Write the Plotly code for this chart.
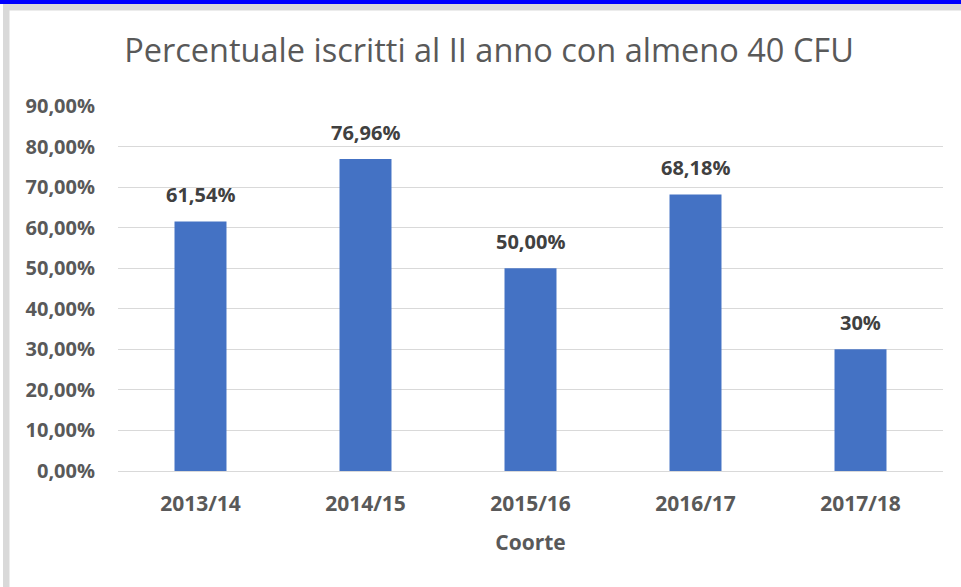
import plotly.graph_objects as go

coorti = ["2013/14", "2014/15", "2015/16", "2016/17", "2017/18"]
percentuali = [0.6154, 0.7696, 0.50, 0.6818, 0.30]
etichette = ["61,54%", "76,96%", "50,00%", "68,18%", "30%"]

W, H = 961, 587
ML, MR, MT, MB = 118, 18, 106, 116
PW, PH = W - ML - MR, H - MT - MB


def px_x(px):
    return (px - ML) / PW


def px_y(py):
    return (H - MB - py) / PH


fig = go.Figure()

fig.add_trace(go.Bar(
    x=coorti, y=percentuali,
    marker=dict(color="#4472C4", line=dict(width=0)),
    width=0.315,
    hoverinfo="skip",
))

# etichette dati sopra le barre
for c, v, t in zip(coorti, percentuali, etichette):
    fig.add_annotation(
        x=c, y=v, text=f"<b>{t}</b>", showarrow=False,
        yanchor="bottom", yshift=11,
        font=dict(family="Open Sans", size=20, color="#404040"),
    )

# cornice: barra blu in alto, bordo grigio
fig.add_shape(type="rect", xref="paper", yref="paper",
              x0=px_x(-20), x1=px_x(W + 20), y0=px_y(4), y1=px_y(-20),
              fillcolor="#0000FF", line_width=0, layer="below")
fig.add_shape(type="rect", xref="paper", yref="paper",
              x0=px_x(3), x1=px_x(W + 20), y0=px_y(10.5), y1=px_y(4),
              fillcolor="#D9D9D9", line_width=0, layer="below")
fig.add_shape(type="rect", xref="paper", yref="paper",
              x0=px_x(3), x1=px_x(9.5), y0=px_y(H + 20), y1=px_y(4),
              fillcolor="#D9D9D9", line_width=0, layer="below")

fig.update_layout(
    width=W, height=H,
    margin=dict(l=ML, r=MR, t=MT, b=MB),
    paper_bgcolor="white", plot_bgcolor="white",
    separators=",.",
    showlegend=False,
    title=dict(
        text="Percentuale iscritti al II anno con almeno 40 CFU",
        font=dict(family="Open Sans", size=32.5, color="#595959"),
        x=489 / W, xanchor="center", xref="container",
        y=1 - 51 / H, yanchor="middle",
    ),
    font=dict(family="Open Sans", color="#595959"),
)

fig.update_yaxes(
    range=[0, 0.9], dtick=0.1, tickformat=".2%",
    showgrid=True, gridcolor="#D9D9D9", gridwidth=1,
    zeroline=False, showline=False,
    tickfont=dict(family="Open Sans", size=20, color="#595959", weight="bold"),
    ticks="", ticklabelstandoff=22,
)
fig.update_xaxes(
    showline=True, linecolor="#D9D9D9", linewidth=1,
    tickfont=dict(family="Open Sans", size=21, color="#595959", weight="bold"),
    ticks="", ticklabelstandoff=14,
    title=dict(text="<b>Coorte</b>", font=dict(family="Open Sans", size=21, color="#595959"),
               standoff=19),
)

fig.write_html("out.html", config={"displayModeBar": False},
               post_script="document.body.style.margin='0px';")
